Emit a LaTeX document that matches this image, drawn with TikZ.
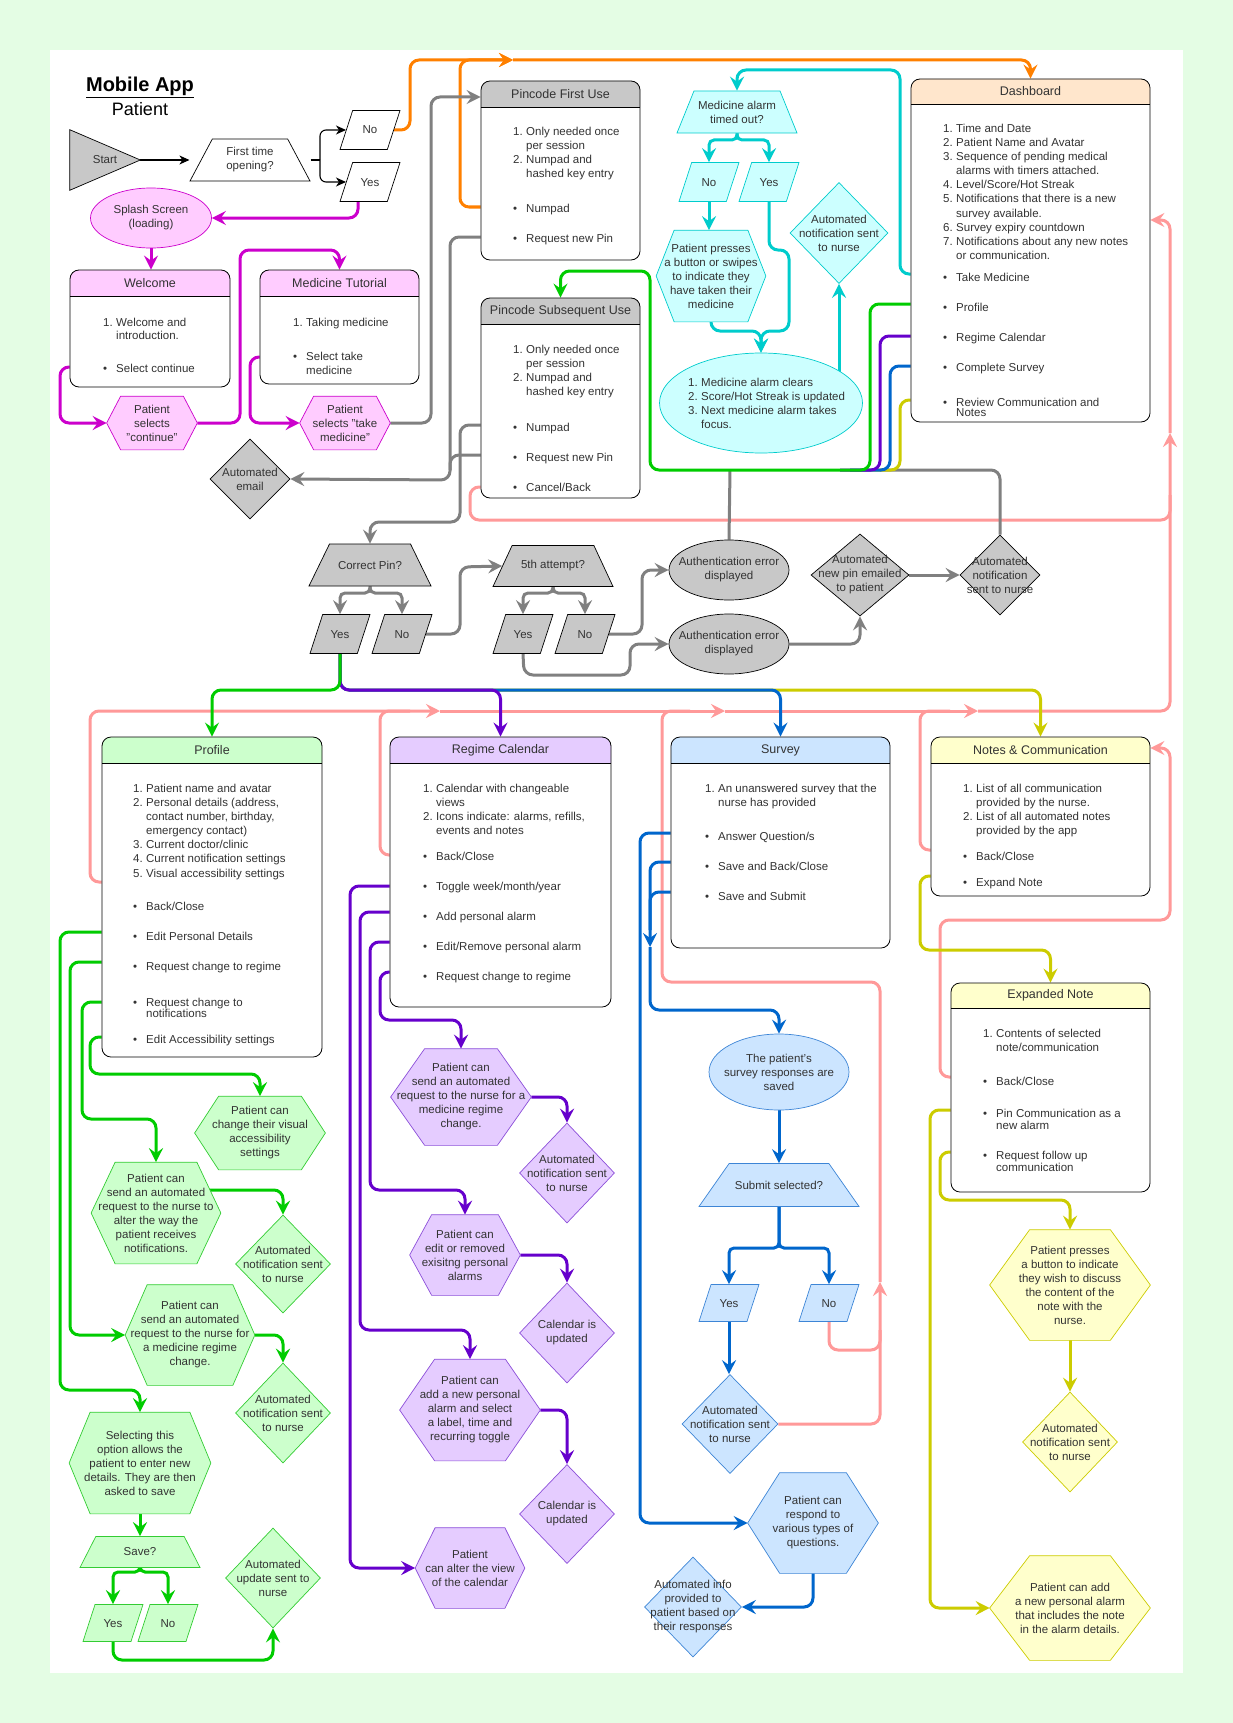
\documentclass[tikz,border=0pt]{standalone}
\usepackage{fontspec}
\setmainfont{Liberation Sans}
\usetikzlibrary{arrows.meta,shapes.geometric,fit,calc}

\definecolor{bgc}{HTML}{E4FDE4}
\definecolor{txtc}{HTML}{333333}
\definecolor{grayf}{HTML}{C8C8C8}
\definecolor{grayl}{HTML}{808080}
\definecolor{magl}{HTML}{CC00CC}
\definecolor{magf}{HTML}{FFCCFF}
\definecolor{orl}{HTML}{FF8000}
\definecolor{teall}{HTML}{00CCCC}
\definecolor{tealf}{HTML}{CCFFFF}
\definecolor{grnl}{HTML}{00CC00}
\definecolor{grnb}{HTML}{33CC33}
\definecolor{grnf}{HTML}{CCFFCC}
\definecolor{purl}{HTML}{6600CC}
\definecolor{purb}{HTML}{8C4FD9}
\definecolor{purf}{HTML}{E5CCFF}
\definecolor{bluel}{HTML}{0066CC}
\definecolor{blueb}{HTML}{3D85D6}
\definecolor{bluef}{HTML}{CCE5FF}
\definecolor{yell}{HTML}{CCCC00}
\definecolor{yelf}{HTML}{FFFFCC}
\definecolor{pinkl}{HTML}{FF9999}
\definecolor{peach}{HTML}{FFE6CC}

\pgfdeclarelayer{lines}
\pgfsetlayers{lines,main}

\tikzset{
  >={Stealth[length=14pt,width=14pt,inset=5pt]},
  txt/.style={font=\fontsize{11.5}{14}\selectfont, text=txtc, inner sep=0pt, align=center},
  itm/.style={font=\fontsize{11.5}{14}\selectfont, text=txtc, inner sep=0pt, anchor=base west},
  ttl/.style={font=\fontsize{12.5}{15}\selectfont, text=txtc, inner sep=0pt},
  say/.style={label={[txt]center:#1}},
  shp/.style={inner sep=0pt, line width=0.7pt},
  scrbox/.style={draw, rounded corners=9pt, inner sep=0pt, line width=0.8pt},
  dia/.style={diamond, shp},
  ell/.style={ellipse, shp},
  dec/.style 2 args={trapezium, trapezium angle=#1, trapezium stretches body, shp,
    text height=#2, text depth=0pt},
  para/.style={trapezium, trapezium left angle=72, trapezium right angle=108,
    trapezium stretches body, shp, txt, minimum width=60pt, text height=23.5pt, text depth=15.5pt},
  lowpara/.style={text height=22.5pt, text depth=14.5pt},
  hexa/.style n args={3}{rectangle, shp, append after command={\pgfextra{%
    \draw[shp, fill=#1, draw=#2] (\tikzlastnode.west)
      -- ([xshift=#3]\tikzlastnode.north west) -- ([xshift=-#3]\tikzlastnode.north east)
      -- (\tikzlastnode.east)
      -- ([xshift=-#3]\tikzlastnode.south east) -- ([xshift=#3]\tikzlastnode.south west)
      -- cycle;}}},
  tri/.style={rectangle, shp, append after command={\pgfextra{%
    \draw[shp, fill=grayf, draw=black] (\tikzlastnode.north west)
      -- (\tikzlastnode.east) -- (\tikzlastnode.south west) -- cycle;}}},
  whitec/.style={fill=white, draw=black},
  grayc/.style={fill=grayf, draw=black},
  magc/.style={fill=magf, draw=magl},
  tealc/.style={fill=tealf, draw=teall},
  grnc/.style={fill=grnf, draw=grnb},
  purc/.style={fill=purf, draw=purb},
  bluec/.style={fill=bluef, draw=blueb},
  yelc/.style={fill=yelf, draw=yell},
  conn/.style={line width=3pt, rounded corners=9pt},
  split/.style={rounded corners=5pt},
  thinarr/.style={line width=1.1pt, -{Stealth[length=10pt,width=9pt,inset=3pt]}},
  magk/.style={conn, draw=magl},
  grak/.style={conn, draw=grayl},
  ork/.style={conn, draw=orl},
  teak/.style={conn, draw=teall},
  grnk/.style={conn, draw=grnl},
  purk/.style={conn, draw=purl},
  bluk/.style={conn, draw=bluel},
  yelk/.style={conn, draw=yell},
  pnkk/.style={conn, draw=pinkl},
}

\newcommand\nlab[1]{\makebox[13pt][l]{#1}}
\newcommand\blab{\makebox[13pt][l]{\textbullet}}
\newcommand\clab{\hspace*{13pt}}

% screen with a coloured title bar
\newcommand\screen[8]{%
  \fill[white, rounded corners=9pt] (#2,#3) rectangle (#4,#5);
  \begin{scope}
    \clip (#2,#3) rectangle (#4,#6);
    \fill[#7, rounded corners=9pt] (#2,#3) rectangle (#4,#5);
  \end{scope}
  \draw[line width=0.8pt] (#2,#6) -- (#4,#6);
  \node[scrbox, fit={(#2,#3) (#4,#5)}] (#1) {};
  \node[ttl] (#1-title) at ($(#2,#3)!.5!(#4,#6)$) {#8};
}
\newcommand\boxlines[3]{%
  \foreach \y/\itx [count=\i] in {#3} {\node[itm] (#1-\i) at (#2,\y+4) {\itx};}
}

\begin{document}
\begin{tikzpicture}[x=1pt,y=-1pt]

\useasboundingbox (0,0) rectangle (1233,1723);
\begin{pgfonlayer}{lines}
  \fill[bgc] (0,0) rectangle (1233,1723);
  \fill[white] (50,50) rectangle (1183,1673);
\end{pgfonlayer}

% TITLE
\node[font=\fontsize{20}{24}\selectfont\bfseries] (head) at (140,87) {\underline{Mobile App}};
\node[font=\fontsize{18}{22}\selectfont] (subhead) at (140,109) {Patient};

% SCREENS
\screen{wel}{70}{270}{230}{387}{296}{magf}{Welcome}
\boxlines{welt}{103}{322/{\nlab{1.}Welcome and}, 335/{\clab introduction.}, 368/{\blab Select continue}}

\screen{tut}{260}{270}{419}{384}{296}{magf}{Medicine Tutorial}
\boxlines{tutt}{293}{322/{\nlab{1.}Taking medicine}, 356/{\blab Select take}, 370/{\clab medicine}}

\screen{pfu}{481}{81}{640}{260}{107}{grayf}{Pincode First Use}
\boxlines{pfut}{513}{132/{\nlab{1.}Only needed once}, 146/{\clab per session}, 160/{\nlab{2.}Numpad and},
  174/{\clab hashed key entry}, 208/{\blab Numpad}, 238/{\blab Request new Pin}}

\screen{psu}{481}{298}{640}{498}{324}{grayf}{Pincode Subsequent Use}
\boxlines{psut}{513}{349/{\nlab{1.}Only needed once}, 363/{\clab per session}, 377/{\nlab{2.}Numpad and},
  391/{\clab hashed key entry}, 427/{\blab Numpad}, 457/{\blab Request new Pin}, 487/{\blab Cancel/Back}}

\screen{dash}{911}{79}{1150}{422}{104}{peach}{Dashboard}
\boxlines{dasht}{943}{129/{\nlab{1.}Time and Date}, 143/{\nlab{2.}Patient Name and Avatar},
  157/{\nlab{3.}Sequence of pending medical}, 171/{\clab alarms with timers attached.},
  185/{\nlab{4.}Level/Score/Hot Streak}, 199/{\nlab{5.}Notifications that there is a new},
  213/{\clab survey available.}, 227/{\nlab{6.}Survey expiry countdown},
  241/{\nlab{7.}Notifications about any new notes}, 255/{\clab or communication.},
  277/{\blab Take Medicine}, 307/{\blab Profile}, 337/{\blab Regime Calendar},
  367/{\blab Complete Survey}, 402/{\blab Review Communication and}, 412/{\clab Notes}}

\screen{prof}{102}{737}{322}{1057}{763}{grnf}{Profile}
\boxlines{proft}{133}{788/{\nlab{1.}Patient name and avatar}, 802/{\nlab{2.}Personal details (address,},
  816/{\clab contact number, birthday,}, 830/{\clab emergency contact)}, 844/{\nlab{3.}Current doctor/clinic},
  858/{\nlab{4.}Current notification settings}, 873/{\nlab{5.}Visual accessibility settings},
  906/{\blab Back/Close}, 936/{\blab Edit Personal Details}, 966/{\blab Request change to regime},
  1002/{\blab Request change to}, 1013/{\clab notifications}, 1039/{\blab Edit Accessibility settings}}

\screen{cal}{390}{737}{611}{1007}{763}{purf}{Regime Calendar}
\boxlines{calt}{423}{788/{\nlab{1.}Calendar with changeable}, 802/{\clab views},
  816/{\nlab{2.}Icons indicate: alarms, refills,}, 830/{\clab events and notes}, 856/{\blab Back/Close},
  886/{\blab Toggle week/month/year}, 916/{\blab Add personal alarm}, 946/{\blab Edit/Remove personal alarm},
  976/{\blab Request change to regime}}

\screen{surv}{671}{737}{890}{948}{763}{bluef}{Survey}
\boxlines{survt}{705}{788/{\nlab{1.}An unanswered survey that the}, 802/{\clab nurse has provided},
  836/{\blab Answer Question/s}, 866/{\blab Save and Back/Close}, 896/{\blab Save and Submit}}

\screen{notes}{931}{737}{1150}{896}{763}{yelf}{Notes \& Communication}
\boxlines{notest}{963}{788/{\nlab{1.}List of all communication}, 802/{\clab provided by the nurse.},
  816/{\nlab{2.}List of all automated notes}, 830/{\clab provided by the app},
  856/{\blab Back/Close}, 882/{\blab Expand Note}}

\screen{exp}{951}{983}{1150}{1192}{1008}{yelf}{Expanded Note}
\boxlines{expt}{983}{1033/{\nlab{1.}Contents of selected}, 1047/{\clab note/communication},
  1081/{\blab Back/Close}, 1113/{\blab Pin Communication as a}, 1125/{\clab new alarm},
  1155/{\blab Request follow up}, 1167/{\clab communication}}

% START AND FIRST USE
\node[tri, minimum width=70pt, minimum height=60pt, say={Start}] (start) at (105,160) {};
\node[dec={62}{42pt}, whitec, minimum width=120pt, say={First time\\opening?}] (first) at (250,160) {};
\node[para, whitec] (no1) at (370,130) {No};
\node[para, whitec] (yes1) at (370,182) {Yes};
\coordinate (brace) at (320,160);
\node[ell, magc, minimum width=121pt, minimum height=60pt, say={Splash Screen\\(loading)}] (splash) at (151,218) {};
\node[hexa={magf}{magl}{14pt}, minimum width=90pt, minimum height=53pt, say={Patient\\selects\\"continue"}] (cont) at (152,423) {};
\node[hexa={magf}{magl}{14pt}, minimum width=90pt, minimum height=53pt, say={Patient\\selects "take\\medicine"}] (take) at (345,423) {};

% PIN CHECK
\node[dia, grayc, minimum width=80pt, minimum height=80pt, say={Automated\\email}] (email) at (250,479) {};
\node[dec={64}{42pt}, grayc, minimum width=122pt, say={Correct Pin?}] (cpin) at (370,565) {};
\node[para, grayc] (cpyes) at (340,634) {Yes};
\node[para, grayc] (cpno) at (402,634) {No};
\node[dec={65}{41pt}, grayc, minimum width=120pt, say={5th attempt?}] (fifth) at (553,566) {};
\node[para, grayc] (fyes) at (523,634) {Yes};
\node[para, grayc] (fno) at (585,634) {No};
\node[ell, grayc, minimum width=120pt, minimum height=60pt, say={Authentication error\\displayed}] (auth1) at (729,570) {};
\node[ell, grayc, minimum width=120pt, minimum height=60pt, say={Authentication error\\displayed}] (auth2) at (729,644) {};
\node[dia, grayc, minimum width=98pt, minimum height=82pt, say={Automated\\new pin emailed\\to patient}] (newpin) at (860,575) {};
\node[dia, grayc, minimum width=80pt, minimum height=80pt, say={Automated\\notification\\sent to nurse}] (nurse0) at (1000,575) {};

% MEDICINE ALARM
\node[dec={68}{42pt}, tealc, minimum width=120pt, say={Medicine alarm\\timed out?}] (alarmq) at (737,112) {};
\node[para, tealc] (alno) at (709,182) {No};
\node[para, tealc] (alyes) at (769,182) {Yes};
\node[hexa={tealf}{teall}{18pt}, minimum width=109pt, minimum height=91pt, say={Patient presses\\a button or swipes\\to indicate they\\have taken their\\medicine}] (presses) at (711,276) {};
\node[dia, tealc, minimum width=98pt, minimum height=101pt, say={Automated\\notification sent\\to nurse}] (nurse1) at (839,233) {};
\node[ell, tealc, minimum width=203pt, minimum height=100pt] (clears) at (761,403) {};
\boxlines{clrt}{688}{382/{\nlab{1.}Medicine alarm clears}, 396/{\nlab{2.}Score/Hot Streak is updated},
  410/{\nlab{3.}Next medicine alarm takes}, 424/{\clab focus.}}

% PROFILE
\node[hexa={grnf}{grnb}{24pt}, minimum width=130pt, minimum height=73pt, say={Patient can\\change their visual\\accessibility\\settings}] (gvis) at (260,1133) {};
\node[hexa={grnf}{grnb}{24pt}, minimum width=129pt, minimum height=101pt, say={Patient can\\send an automated\\request to the nurse to\\alter the way the\\patient receives\\notifications.}] (gnot) at (156,1213) {};
\node[dia, grnc, minimum width=95pt, minimum height=98pt, say={Automated\\notification sent\\to nurse}] (gnurse1) at (283,1264) {};
\node[hexa={grnf}{grnb}{22pt}, minimum width=129pt, minimum height=100pt, say={Patient can\\send an automated\\request to the nurse for\\a medicine regime\\change.}] (greg) at (190,1335) {};
\node[dia, grnc, minimum width=95pt, minimum height=100pt, say={Automated\\notification sent\\to nurse}] (gnurse2) at (283,1413) {};
\node[hexa={grnf}{grnb}{21pt}, minimum width=141pt, minimum height=101pt, say={Selecting this\\option allows the\\patient to enter new\\details. They are then\\asked to save}] (gsel) at (140,1463) {};
\node[dec={63}{31pt}, grnc, minimum width=120pt, say={Save?}] (save) at (140,1552) {};
\node[para, lowpara, grnc] (sayes) at (113,1623) {Yes};
\node[para, lowpara, grnc] (sano) at (168,1623) {No};
\node[dia, grnc, minimum width=95pt, minimum height=100pt, say={Automated\\update sent to\\nurse}] (gupd) at (273,1578) {};

% REGIME CALENDAR
\node[hexa={purf}{purb}{34pt}, minimum width=140pt, minimum height=96pt, say={Patient can\\send an automated\\request to the nurse for a\\medicine regime\\change.}] (preg) at (461,1097) {};
\node[dia, purc, minimum width=95pt, minimum height=100pt, say={Automated\\notification sent\\to nurse}] (pnurse) at (567,1173) {};
\node[hexa={purf}{purb}{22pt}, minimum width=110pt, minimum height=80pt, say={Patient can\\edit or removed\\exisitng personal\\alarms}] (pedit) at (465,1255) {};
\node[dia, purc, minimum width=95pt, minimum height=100pt, say={Calendar is\\updated}] (pcal1) at (567,1333) {};
\node[hexa={purf}{purb}{35pt}, minimum width=140pt, minimum height=101pt, say={Patient can\\add a new personal\\alarm and select\\a label, time and\\recurring toggle}] (padd) at (470,1410) {};
\node[dia, purc, minimum width=95pt, minimum height=99pt, say={Calendar is\\updated}] (pcal2) at (567,1514) {};
\node[hexa={purf}{purb}{20pt}, minimum width=109pt, minimum height=80pt, say={Patient\\can alter the view\\of the calendar}] (palter) at (470,1568) {};

% SURVEY
\node[ell, bluec, minimum width=140pt, minimum height=76pt, say={The patient's\\survey responses are\\saved}] (saved) at (779,1072) {};
\node[dec={55}{43pt}, bluec, minimum width=160pt, say={Submit selected?}] (submit) at (779,1185) {};
\node[para, lowpara, bluec] (svyes) at (729,1303) {Yes};
\node[para, lowpara, bluec] (svno) at (829,1303) {No};
\node[dia, bluec, minimum width=96pt, minimum height=99pt, say={Automated\\notification sent\\to nurse}] (bnurse) at (730,1424) {};
\node[hexa={bluef}{blueb}{32pt}, minimum width=130pt, minimum height=100pt, say={Patient can\\respond to\\various types of\\questions.}] (bresp) at (813,1523) {};
\node[dia, bluec, minimum width=97pt, minimum height=100pt, say={Automated info\\provided to\\patient based on\\their responses}] (binfo) at (693,1607) {};

% NOTES
\node[hexa={yelf}{yell}{40pt}, minimum width=160pt, minimum height=110pt, say={Patient presses\\a button to indicate\\they wish to discuss\\the content of the\\note with the\\nurse.}] (ypress) at (1070,1285) {};
\node[dia, yelc, minimum width=95pt, minimum height=100pt, say={Automated\\notification sent\\to nurse}] (ynurse) at (1070,1442) {};
\node[hexa={yelf}{yell}{40pt}, minimum width=160pt, minimum height=104pt, say={Patient can add\\a new personal alarm\\that includes the note\\in the alarm details.}] (yadd) at (1070,1608) {};

% CONNECTORS
\coordinate (orm) at (513,60);
\coordinate (pk1) at (440,711);
\coordinate (pk2) at (725,711);
\coordinate (pk3) at (978,711);
\coordinate (pkup) at (1170,433);
\coordinate (pk4) at (880,1282);
\coordinate (bm) at (650,947);

\begin{pgfonlayer}{lines}
% black
\draw[thinarr] (start.east) -- (first.bottom left corner |- first.center);
\draw[line width=1.1pt] (first.bottom right corner |- first.center) -- (brace);
\draw[thinarr, rounded corners=6pt] (brace) |- (no1.west);
\draw[thinarr, rounded corners=6pt] (brace) |- (yes1.west);

% pink lines back to the dashboard
\draw[pnkk, ->] (prof.west |- 0,882) -- (90,882) -- (90,711) -- (pk1);
\draw[pnkk] (cal.west |- 0,855) -- (380,855) -- (380,711) -- (410,711);
\draw[pnkk, ->] (pk1) -- (pk2);
\draw[pnkk, ->] (pk2) -- (pk3);
\draw[pnkk] (notes.west |- 0,850) -- (920,850) -- (920,711) -- (950,711);
\draw[pnkk, ->] (pk3) -- (1170,711) -- (pkup);
\draw[pnkk, ->] (pkup) -- (1170,220) -- (dash.east |- 0,220);
\draw[pnkk] (psu.west |- 0,487) -- (470,487) -- (470,520) -- (1170,520) -- (1170,495);
\draw[pnkk, ->] (bnurse.east) -- (880,1424) -- (pk4);
\draw[pnkk] (svno.south) -- (829,1350) -- (880,1350) -- (880,1330);
\draw[pnkk] (pk4) -- (880,982) -- (662,982) -- (662,711) -- (690,711);
\draw[pnkk, ->] (exp.west |- 0,1077) -- (940,1077) -- (940,920) -- (1170,920) -- (1170,748) -- (notes.east |- 0,748);

% magenta
\draw[magk, ->] ([xshift=-12pt]yes1.south) |- (splash.east);
\draw[magk, ->] (splash.south) -- (splash.south |- wel.north);
\draw[magk, ->] (wel.west |- 0,367) -- (60,367) |- (cont.west);
\draw[magk, ->] (cont.east) -- (240,423) -- (240,250) -- (tut.north |- 0,250) -- (tut.north);
\draw[magk, ->] (tut.west |- 0,357) -- (250,357) |- (take.west);

% orange
\draw[ork, ->] (no1.east) -- (410,130) -- (410,60) -- (orm);
\draw[ork, ->] (pfu.west |- 0,207) -- (460,207) -- (460,60) -- (orm);
\draw[ork, ->] (orm) -- (dash.north |- 0,60) -- (dash.north);

% gray
\draw[grak, ->] (take.east) -- (431,423) -- (431,97) -- (pfu.west |- 0,97);
\draw[grak, ->] (pfu.west |- 0,237) -- (450,237) -- (450,480) -- (email.east);
\draw[grak] (psu.west |- 0,455) -- (450,455) -- (450,470);
\draw[grak, ->] (psu.west |- 0,425) -- (460,425) -- (460,522) -- (370,522) -- (cpin.north);
\draw[grak, split, ->] (cpin.south) -- (370,593) -| (cpyes.north);
\draw[grak, split, ->] (cpin.south) -- (370,593) -| (cpno.north);
\draw[grak, ->] (cpno.east) -- (460,634) -- (460,567) -- (fifth.west);
\draw[grak, split, ->] (fifth.south) -- (553,593) -| (fyes.north);
\draw[grak, split, ->] (fifth.south) -- (553,593) -| (fno.north);
\draw[grak, ->] (fno.east) -- (642,634) -- (642,570) -- (auth1.west);
\draw[grak, ->] (fyes.south) -- (524,675) -- (630,675) -- (630,644) -- (auth2.west);
\draw[grak, ->] (auth2.east) -| (newpin.south);
\draw[grak, ->] (newpin.east) -- (nurse0.west);
\draw[grak] (auth1.north) -- (730,470);
\draw[grak] (nurse0.north) -- (1000,470) -- (880,470);

% teal
\draw[teak, ->] (dash.west |- 0,274) -- (900,274) -- (900,70) -- (alarmq.north |- 0,70) -- (alarmq.north);
\draw[teak, split, ->] (alarmq.south) -- (737,140) -| (alno.north);
\draw[teak, split, ->] (alarmq.south) -- (737,140) -| (alyes.north);
\draw[teak, ->] (alno.south) -- (alno.south |- presses.north);
\draw[teak, ->] (presses.south) -- (711,331) -| (clears.north);
\draw[teak, ->] (alyes.south) -- (769,250) -- (789,250) -- (789,331) -| (clears.north);
\draw[teak, ->] (nurse1.south |- clears.center) -- (nurse1.south);

% dashboard menu back to the pin
\draw[yelk] (dash.west |- 0,400) -- (900,400) -- (900,470) -- (860,470);
\draw[bluk] (dash.west |- 0,366) -- (890,366) -- (890,470) -- (850,470);
\draw[purk] (dash.west |- 0,336) -- (880,336) -- (880,470) -- (840,470);
\draw[grnk, ->] (dash.west |- 0,304) -- (870,304) -- (870,470) -- (650,470) -- (650,271) -- (psu.north |- 0,271) -- (psu.north);

% correct pin to the sections
\draw[yelk, ->] (cpyes.south) -- (340,690) -- (notes.north |- 0,690) -- (notes.north);
\draw[bluk, ->] (cpyes.south) -- (340,690) -- (surv.north |- 0,690) -- (surv.north);
\draw[purk, ->] (cpyes.south) -- (340,690) -- (cal.north |- 0,690) -- (cal.north);
\draw[grnk, ->] (cpyes.south) -- (340,690) -- (prof.north |- 0,690) -- (prof.north);

% green
\draw[grnk, ->] (prof.west |- 0,932) -- (60,932) -- (60,1390) -- (140,1390) -- (gsel.north);
\draw[grnk, ->] (prof.west |- 0,962) -- (70,962) -- (70,1335) -- (greg.west);
\draw[grnk, ->] (prof.west |- 0,1002) -- (82,1002) -- (82,1119) -- (156,1119) -- (gnot.north);
\draw[grnk, ->] (prof.west |- 0,1037) -- (90,1037) -- (90,1074) -- (260,1074) -- (gvis.north);
\draw[grnk, ->] (gnot.center |- 0,1190) -- (283,1190) -- (gnurse1.north);
\draw[grnk, ->] (greg.east) -| (gnurse2.north);
\draw[grnk, ->] (gsel.south) -- (save.north);
\draw[grnk, split, ->] (save.south) -- (140,1572) -| (sayes.north);
\draw[grnk, split, ->] (save.south) -- (140,1572) -| (sano.north);
\draw[grnk, ->] (sayes.south) -- (113,1660) -| (gupd.south);

% purple
\draw[purk, ->] (cal.west |- 0,886) -- (350,886) -- (350,1568) -- (palter.west);
\draw[purk, ->] (cal.west |- 0,912) -- (360,912) -- (360,1330) -- (470,1330) -- (padd.north);
\draw[purk, ->] (cal.west |- 0,942) -- (370,942) -- (370,1190) -- (465,1190) -- (pedit.north);
\draw[purk, ->] (cal.west |- 0,972) -- (380,972) -- (380,1020) -- (461,1020) -- (preg.north);
\draw[purk, ->] (preg.east) -| (pnurse.north);
\draw[purk, ->] (pedit.east) -| (pcal1.north);
\draw[purk, ->] (padd.east) -| (pcal2.north);

% blue
\draw[bluk, ->] (surv.west |- 0,833) -- (640,833) -- (640,1523) -- (bresp.west);
\draw[bluk, ->] (surv.west |- 0,862) -- (650,862) -- (bm);
\draw[bluk] (surv.west |- 0,892) -- (650,892) -- (650,930);
\draw[bluk, ->] (bm) -- (650,1010) -- (saved.north |- 0,1010) -- (saved.north);
\draw[bluk, ->] (saved.south) -- (submit.north);
\draw[bluk, split, ->] (submit.south) -- (779,1248) -| (svyes.north);
\draw[bluk, split, ->] (submit.south) -- (779,1248) -| (svno.north);
\draw[bluk, ->] (svyes.south) -- (svyes.south |- bnurse.north);
\draw[bluk, ->] (bresp.south) |- (binfo.east);

% yellow
\draw[yelk, ->] (notes.west |- 0,876) -- (920,876) -- (920,950) -- (exp.north |- 0,950) -- (exp.north);
\draw[yelk, ->] (exp.west |- 0,1110) -- (930,1110) -- (930,1608) -- (yadd.west);
\draw[yelk, ->] (exp.west |- 0,1152) -- (940,1152) -- (940,1200) -- (ypress.north |- 0,1200) -- (ypress.north);
\draw[yelk, ->] (ypress.south) -- (ynurse.north);
\end{pgfonlayer}

\end{tikzpicture}
\end{document}
